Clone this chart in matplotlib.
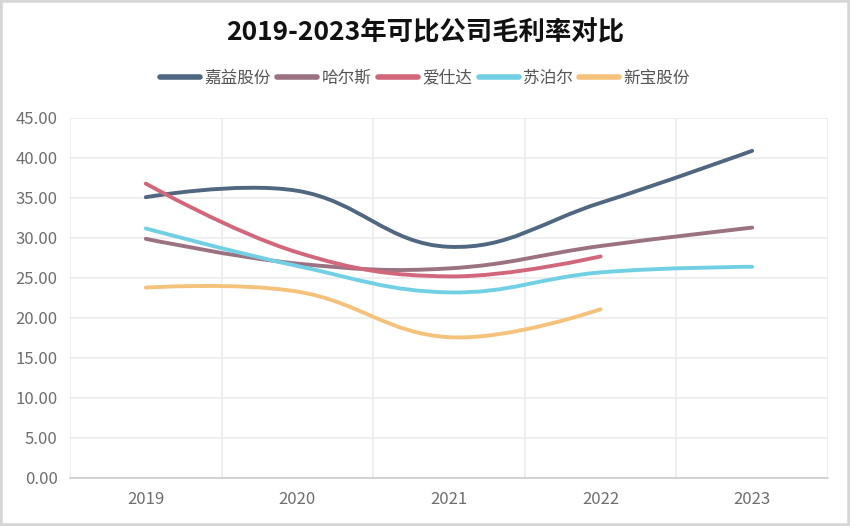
import numpy as np
import matplotlib
matplotlib.use("Agg")
import matplotlib.pyplot as plt
from matplotlib.path import Path
from matplotlib.patches import PathPatch, Rectangle
from matplotlib.lines import Line2D

plt.rcParams['font.family'] = ['Noto Sans CJK SC', 'DejaVu Sans']

# --- data ---
years = ['2019', '2020', '2021', '2022', '2023']
jiayi = [35.1, 35.9, 28.9, 34.4, 40.9]      # 嘉益股份
haers = [29.9, 26.8, 26.2, 29.0, 31.3]      # 哈尔斯
aishida = [36.8, 28.2, 25.2, 27.7]          # 爱仕达 (no 2023)
supor = [31.2, 26.5, 23.2, 25.7, 26.4]      # 苏泊尔
xinbao = [23.8, 23.3, 17.6, 21.1]           # 新宝股份 (no 2023)

names = ['嘉益股份', '哈尔斯', '爱仕达', '苏泊尔', '新宝股份']
series = [jiayi, haers, aishida, supor, xinbao]
colors = ['#4f6781', '#9a7282', '#d2677c', '#72d0e4', '#f5c27c']
yticks = np.arange(0, 50, 5)


def smooth_path(xs, ys, sx, sy, smooth=0.4):
    # echarts-like bezier smoothing, computed in pixel space
    px = np.asarray(xs, float) * sx
    py = np.asarray(ys, float) * sy
    n = len(px)
    cin, cout = [], []
    for i in range(n):
        if i == 0 or i == n - 1:
            cin.append((px[i], py[i])); cout.append((px[i], py[i]))
            continue
        vx = px[i + 1] - px[i - 1]
        vy = py[i + 1] - py[i - 1]
        d0 = np.hypot(px[i] - px[i - 1], py[i] - py[i - 1])
        d1 = np.hypot(px[i + 1] - px[i], py[i + 1] - py[i])
        r = d1 / (d0 + d1)
        cout.append((px[i] + vx * smooth * r, py[i] + vy * smooth * r))
        cin.append((px[i] - vx * smooth * (1 - r), py[i] - vy * smooth * (1 - r)))
    verts = [(px[0], py[0])]
    codes = [Path.MOVETO]
    for i in range(1, n):
        verts += [cout[i - 1], cin[i], (px[i], py[i])]
        codes += [Path.CURVE4] * 3
    verts = [(a / sx, b / sy) for a, b in verts]
    return Path(verts, codes)


fig = plt.figure(figsize=(8.5, 5.26), dpi=100)
ax = fig.add_axes([70 / 850, 1 - 478 / 526, (828 - 70) / 850, (478 - 118) / 526])

ax.set_xlim(-0.5, len(years) - 0.5)
ax.set_ylim(0, 45)

# pixel scale for smoothing
bbox = ax.get_window_extent()
sx = bbox.width / len(years)
sy = bbox.height / 45

for name, vals, c in zip(names, series, colors):
    x = np.arange(len(vals))
    p = smooth_path(x, vals, sx, sy)
    ax.add_patch(PathPatch(p, fill=False, edgecolor=c, lw=2.8,
                           capstyle='round', joinstyle='round'))

# grid
ax.set_yticks(yticks)
ax.set_yticklabels([f'{v:.2f}' for v in yticks])
ax.set_xticks(np.arange(len(years)))
ax.set_xticklabels(years)
ax.set_xticks(np.arange(-0.5, len(years)), minor=True)
ax.grid(True, axis='y', color='#ececec', lw=1.2)
ax.grid(True, axis='x', which='minor', color='#ececec', lw=1.2)
ax.set_axisbelow(True)
for s in ['top', 'right', 'left']:
    ax.spines[s].set_visible(False)
ax.spines['bottom'].set_color('#cccccc')
ax.spines['bottom'].set_linewidth(1.2)
ax.tick_params(which='both', length=0)
ax.tick_params(axis='y', labelsize=12, labelcolor='#6e6e6e', pad=9)
ax.tick_params(axis='x', labelsize=12, labelcolor='#6e6e6e', pad=9)

# title and legend
fig.text(0.5, 1 - 33 / 526, '2019-2023年可比公司毛利率对比', ha='center', va='center',
         fontsize=19, fontweight='bold', color='#111111')
handles = [Line2D([], [], color=c, lw=4, solid_capstyle='round') for c in colors]
fig.legend(handles, names, loc='center', bbox_to_anchor=(0.5, 1 - 78 / 526),
           ncol=5, frameon=False, fontsize=12, labelcolor='#555555',
           handlelength=2.4, handletextpad=0.25, columnspacing=0.4)

fig.add_artist(Rectangle((0, 0), 1, 1, transform=fig.transFigure, fill=False,
                         edgecolor='#d6d6d6', lw=4))

fig.savefig('out.png', dpi=100)
